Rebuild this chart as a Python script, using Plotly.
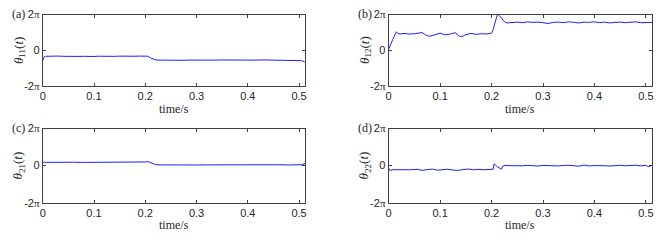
import plotly.graph_objects as go

# ---------------- data (radians) ----------------
t11 = [0, 0.002, 0.005, 0.01, 0.02, 0.03, 0.04, 0.05, 0.06, 0.07, 0.08, 0.09, 0.10,
       0.11, 0.12, 0.13, 0.14, 0.15, 0.16, 0.17, 0.18, 0.19, 0.20, 0.205, 0.21,
       0.215, 0.22, 0.23, 0.24, 0.25, 0.27, 0.29, 0.31, 0.33, 0.35, 0.37, 0.39,
       0.41, 0.43, 0.45, 0.47, 0.49, 0.50, 0.505, 0.51, 0.512]
v11 = [-1.85, -1.25, -1.08, -1.06, -1.1, -1.04, -1.08, -1.13, -1.07, -1.1, -1.08,
       -1.14, -1.11, -1.06, -1.09, -1.13, -1.09, -1.05, -1.09, -1.11, -1.07, -1.04,
       -1.02, -1.06, -1.35, -1.6, -1.72, -1.76, -1.79, -1.74, -1.78, -1.75, -1.79,
       -1.76, -1.73, -1.77, -1.79, -1.75, -1.72, -1.76, -1.78, -1.74, -1.76, -1.85,
       -2.0, -2.2]

t12 = [0, 0.002, 0.005, 0.008, 0.012, 0.015, 0.018, 0.022, 0.03, 0.04, 0.05, 0.06,
       0.065, 0.07, 0.075, 0.08, 0.09, 0.1, 0.105, 0.11, 0.12, 0.13, 0.135, 0.14,
       0.145, 0.15, 0.16, 0.17, 0.18, 0.19, 0.2, 0.203, 0.206, 0.209, 0.212, 0.215,
       0.218, 0.222, 0.226, 0.23, 0.24, 0.25, 0.26, 0.27, 0.28, 0.29, 0.30, 0.31,
       0.32, 0.33, 0.34, 0.35, 0.36, 0.37, 0.38, 0.39, 0.40, 0.41, 0.42, 0.43, 0.44,
       0.45, 0.46, 0.47, 0.48, 0.49, 0.50, 0.51, 0.512]
v12 = [0.2, 0.7, 1.1, 1.9, 2.7, 3.25, 2.95, 2.85, 2.95, 2.85, 2.9, 2.95, 3.1, 2.8,
       2.55, 2.45, 2.7, 3.0, 2.85, 2.7, 2.85, 3.1, 2.6, 2.4, 2.5, 2.75, 2.95, 2.8,
       2.9, 2.85, 3.0, 3.6, 4.6, 5.7, 6.5, 6.1, 5.8, 5.3, 4.95, 4.8, 4.9, 4.95, 4.85,
       5.0, 4.9, 4.95, 4.85, 4.7, 4.9, 4.95, 4.85, 5.0, 4.9, 4.8, 4.95, 4.9, 5.0,
       4.85, 4.95, 4.8, 4.9, 4.95, 4.85, 4.9, 5.0, 4.85, 4.9, 4.95, 4.9]

t21 = [0, 0.002, 0.005, 0.02, 0.04, 0.06, 0.08, 0.10, 0.12, 0.14, 0.16, 0.18, 0.19,
       0.20, 0.205, 0.21, 0.215, 0.22, 0.225, 0.24, 0.26, 0.28, 0.30, 0.32, 0.34,
       0.36, 0.38, 0.40, 0.42, 0.44, 0.46, 0.48, 0.50, 0.505, 0.51, 0.512]
v21 = [0.4, 0.6, 0.55, 0.58, 0.55, 0.57, 0.54, 0.56, 0.53, 0.55, 0.52, 0.55, 0.6,
       0.62, 0.7, 0.5, 0.3, 0.18, 0.12, 0.14, 0.11, 0.13, 0.1, 0.12, 0.14, 0.11,
       0.12, 0.1, 0.13, 0.12, 0.14, 0.11, 0.1, 0.15, 0.3, 0.38]

t22 = [0, 0.003, 0.008, 0.015, 0.025, 0.035, 0.045, 0.055, 0.065, 0.075, 0.085,
       0.095, 0.105, 0.115, 0.125, 0.135, 0.145, 0.155, 0.165, 0.175, 0.185, 0.195,
       0.203, 0.205, 0.208, 0.212, 0.216, 0.219, 0.222, 0.226, 0.23, 0.24, 0.25,
       0.26, 0.27, 0.28, 0.29, 0.30, 0.31, 0.32, 0.33, 0.34, 0.35, 0.36, 0.37,
       0.38, 0.39, 0.40, 0.41, 0.42, 0.43, 0.44, 0.45, 0.46, 0.47, 0.48, 0.49,
       0.50, 0.505, 0.51, 0.512]
v22 = [-0.45, -0.85, -0.7, -0.72, -0.65, -0.78, -0.7, -0.62, -0.8, -0.68, -0.6,
       -0.78, -0.7, -0.62, -0.75, -0.82, -0.66, -0.58, -0.72, -0.64, -0.7, -0.66,
       -0.62, 0.3, 0.0, -0.25, -0.45, -0.6, -0.1, 0.05, 0.0, -0.05, 0.02, -0.04,
       0.05, 0.0, -0.08, 0.03, -0.02, 0.04, -0.06, 0.02, 0.06, -0.03, -0.1, 0.08,
       -0.05, 0.0, 0.04, -0.02, -0.07, 0.02, 0.05, -0.03, 0.0, 0.06, -0.04, 0.05,
       -0.2, -0.1, 0.05]

xticks = [0, 0.1, 0.2, 0.3, 0.4, 0.5]
xticklabels = ["0", "0.1", "0.2", "0.3", "0.4", "0.5"]
yticklabels = ["-2<span style='font-family:Liberation Serif'>π</span>", "0",
               "2<span style='font-family:Liberation Serif'>π</span>"]
panel_labels = ["(a)", "(b)", "(c)", "(d)"]
ytitles = ["<i>θ</i><sub>11</sub>(<i>t</i>)", "<i>θ</i><sub>12</sub>(<i>t</i>)",
           "<i>θ</i><sub>21</sub>(<i>t</i>)", "<i>θ</i><sub>22</sub>(<i>t</i>)"]
xtitle = "time/s"

PI = 3.141592653589793
W, H = 664, 240
series = [(t11, v11), (t12, v12), (t21, v21), (t22, v22)]

# pixel boxes: (left, right, top, bottom)
boxes = [(40, 304, 9, 84), (388, 653, 9, 84), (40, 304, 129, 207), (388, 653, 129, 207)]

fig = go.Figure()
line_col = "rgb(30,30,255)"
ax_col = "#404040"
for i, ((tt, vv), (l, r, tp, b)) in enumerate(zip(series, boxes)):
    n = "" if i == 0 else str(i + 1)
    fig.add_trace(go.Scatter(x=tt, y=vv, mode="lines", line=dict(color=line_col, width=1),
                             xaxis="x" + n, yaxis="y" + n, showlegend=False))
    xd = [l / W, r / W]
    yd = [1 - b / H, 1 - tp / H]
    fig.layout["xaxis" + n] = dict(domain=xd, range=[0, 0.512], anchor="y" + n,
                                   tickvals=xticks, ticktext=xticklabels,
                                   ticks="inside", ticklen=3, tickcolor=ax_col,
                                   showline=True, linecolor=ax_col, linewidth=1,
                                   mirror="ticks", showgrid=False, zeroline=False,
                                   tickfont=dict(family="Liberation Sans", size=11, color="#262626"))
    fig.layout["yaxis" + n] = dict(domain=yd, range=[-2 * PI, 2 * PI], anchor="x" + n,
                                   tickvals=[-2 * PI, 0, 2 * PI], ticktext=yticklabels,
                                   ticks="inside", ticklen=3, tickcolor=ax_col,
                                   showline=True, linecolor=ax_col, linewidth=1,
                                   mirror="ticks", showgrid=False, zeroline=False,
                                   tickfont=dict(family="Liberation Sans", size=11, color="#262626"))
    fig.add_annotation(x=(l - 33) / W, y=1 - (tp - 1) / H, xref="paper", yref="paper",
                       text=panel_labels[i], showarrow=False, xanchor="left", yanchor="middle",
                       font=dict(family="Liberation Serif", size=12, color="#262626"))
    fig.add_annotation(x=(l - 24) / W, y=1 - ((tp + b) / 2) / H, xref="paper", yref="paper",
                       text=ytitles[i], showarrow=False, textangle=-90,
                       xanchor="center", yanchor="middle",
                       font=dict(family="Liberation Serif", size=13, color="#262626"))
    fig.add_annotation(x=((l + r) / 2) / W, y=1 - (b + 24) / H, xref="paper", yref="paper",
                       text=xtitle, showarrow=False, xanchor="center", yanchor="middle",
                       font=dict(family="Liberation Serif", size=12, color="#262626"))

fig.update_layout(width=W, height=H, margin=dict(l=0, r=0, t=0, b=0),
                  paper_bgcolor="white", plot_bgcolor="white")
fig.write_html("out.html", config={"displayModeBar": False},
               post_script="document.body.style.margin='0';document.body.style.padding='0';")
